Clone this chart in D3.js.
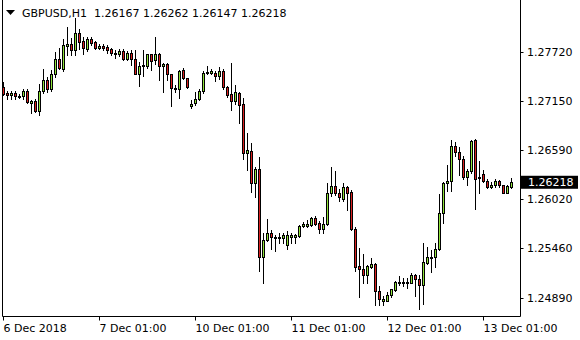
<!DOCTYPE html>
<html><head><meta charset="utf-8">
<script src="https://cdn.jsdelivr.net/npm/d3@7"></script>
<style>
html,body{margin:0;padding:0;background:#fff;}
svg{display:block;}
text{font-family:"DejaVu Sans",sans-serif;font-size:11px;fill:#000;white-space:pre;}
</style>
</head><body>
<svg id="c" width="580" height="340"></svg>
<script>
const symbol = "GBPUSD,H1";
const open = [
1.27318,1.27242,1.27219,1.27245,1.27211,1.27211,1.27265,1.27130,1.27157,1.27035,
1.27265,1.27395,1.27295,1.27464,1.27633,1.27525,1.27789,1.27812,1.27743,1.27935,
1.27840,1.27748,1.27866,1.27829,1.27766,1.27789,1.27774,1.27748,1.27705,1.27697,
1.27728,1.27636,1.27702,1.27636,1.27467,1.27559,1.27553,1.27691,1.27622,1.27697,
1.27553,1.27576,1.27461,1.27306,1.27291,1.27507,1.27415,1.27093,1.27127,1.27180,
1.27272,1.27479,1.27479,1.27479,1.27441,1.27502,1.27311,1.27234,1.27157,1.27249,
1.27119,1.26559,1.26575,1.26214,1.26375,1.25356,1.25555,1.25636,1.25586,1.25586,
1.25578,1.25494,1.25593,1.25593,1.25601,1.25716,1.25716,1.25724,1.25808,1.25754,
1.25685,1.25739,1.26099,1.26176,1.26099,1.26030,1.26161,1.26107,1.25685,1.25256,
1.25218,1.25149,1.25248,1.25279,1.24972,1.24857,1.24857,1.24919,1.24980,1.25072,
1.25072,1.25072,1.25064,1.25149,1.25110,1.25034,1.25294,1.25356,1.25356,1.25448,
1.25869,1.26207,1.26230,1.26636,1.26567,1.26490,1.26276,1.26345,1.26705,1.26283,
1.26314,1.26237,1.26161,1.26184,1.26237,1.26184,1.26099,1.26167];
const high = [
1.27372,1.27272,1.27268,1.27265,1.27234,1.27288,1.27295,1.27165,1.27173,1.27349,
1.27518,1.27433,1.27510,1.27717,1.27763,1.27866,1.28001,1.27875,1.28105,1.27978,
1.27889,1.27886,1.27889,1.27843,1.27812,1.27806,1.27794,1.27766,1.27743,1.27748,
1.27748,1.27728,1.27737,1.27743,1.27599,1.27743,1.27697,1.27697,1.27889,1.27705,
1.27590,1.27590,1.27467,1.27337,1.27513,1.27530,1.27421,1.27168,1.27257,1.27288,
1.27495,1.27556,1.27518,1.27495,1.27541,1.27525,1.27326,1.27587,1.27341,1.27257,
1.27188,1.26786,1.26674,1.26395,1.26506,1.25632,1.25793,1.25670,1.25609,1.25632,
1.25632,1.25662,1.25632,1.25624,1.25724,1.25762,1.25785,1.25823,1.25831,1.25770,
1.25823,1.26207,1.26398,1.26345,1.26138,1.26207,1.26176,1.26130,1.25701,1.25463,
1.25394,1.25264,1.25348,1.25287,1.25026,1.24911,1.24957,1.24995,1.25087,1.25141,
1.25118,1.25118,1.25172,1.25164,1.25156,1.25524,1.25471,1.25440,1.25517,1.26084,
1.26222,1.26421,1.26705,1.26682,1.26628,1.26521,1.26368,1.26705,1.26713,1.26460,
1.26360,1.26253,1.26222,1.26253,1.26245,1.26191,1.26184,1.26262];
const low = [
1.27223,1.27173,1.27180,1.27173,1.27188,1.27180,1.27127,1.27019,1.27027,1.26989,
1.27242,1.27257,1.27272,1.27433,1.27525,1.27502,1.27682,1.27682,1.27679,1.27755,
1.27697,1.27732,1.27797,1.27748,1.27748,1.27743,1.27709,1.27686,1.27651,1.27671,
1.27622,1.27622,1.27567,1.27461,1.27329,1.27438,1.27530,1.27513,1.27582,1.27398,
1.27254,1.27392,1.27099,1.27260,1.27191,1.27406,1.27300,1.27070,1.27111,1.27165,
1.27249,1.27464,1.27464,1.27380,1.27410,1.27288,1.27203,1.27050,1.27119,1.26904,
1.26490,1.26360,1.26107,1.26053,1.25202,1.25064,1.25544,1.25455,1.25432,1.25517,
1.25524,1.25448,1.25524,1.25524,1.25593,1.25701,1.25708,1.25716,1.25724,1.25639,
1.25632,1.25731,1.26061,1.26069,1.26007,1.26007,1.25900,1.25670,1.25195,1.24903,
1.25064,1.25064,1.25233,1.24811,1.24804,1.24804,1.24850,1.24903,1.24972,1.25034,
1.25026,1.25003,1.25057,1.24911,1.24765,1.24819,1.25279,1.25187,1.25248,1.25440,
1.25747,1.26115,1.26115,1.26521,1.26299,1.26253,1.26191,1.26322,1.25915,1.26092,
1.26222,1.26153,1.26153,1.26168,1.26168,1.26092,1.26092,1.26147];
const close = [
1.27234,1.27219,1.27245,1.27211,1.27212,1.27272,1.27142,1.27153,1.27035,1.27265,
1.27395,1.27295,1.27464,1.27633,1.27533,1.27794,1.27812,1.27743,1.27935,1.27835,
1.27760,1.27866,1.27820,1.27766,1.27789,1.27766,1.27743,1.27705,1.27706,1.27728,
1.27636,1.27705,1.27636,1.27467,1.27559,1.27564,1.27691,1.27614,1.27697,1.27553,
1.27576,1.27461,1.27300,1.27300,1.27498,1.27421,1.27314,1.27122,1.27180,1.27272,
1.27479,1.27487,1.27495,1.27441,1.27502,1.27311,1.27226,1.27157,1.27257,1.27111,
1.26559,1.26590,1.26214,1.26375,1.25356,1.25555,1.25636,1.25586,1.25575,1.25587,
1.25609,1.25609,1.25616,1.25609,1.25716,1.25739,1.25739,1.25808,1.25739,1.25685,
1.25739,1.26099,1.26176,1.26099,1.26046,1.26161,1.26099,1.25685,1.25248,1.25218,
1.25149,1.25256,1.25279,1.24972,1.24880,1.24880,1.24926,1.24988,1.25072,1.25073,
1.25071,1.25073,1.25149,1.25103,1.25034,1.25302,1.25356,1.25357,1.25448,1.25869,
1.26207,1.26230,1.26636,1.26567,1.26490,1.26276,1.26345,1.26690,1.26253,1.26282,
1.26237,1.26161,1.26184,1.26237,1.26184,1.26099,1.26176,1.26218];
const yTickValues = [1.24890, 1.25460, 1.26020, 1.26590, 1.27150, 1.27720];
const xTickIndex = [0, 24, 48, 72, 96, 120];
const xTickLabels = ["6 Dec 2018", "7 Dec 01:00", "10 Dec 01:00", "11 Dec 01:00", "12 Dec 01:00", "13 Dec 01:00"];

const bull = "#8fe33a", bear = "#d92020";
const svg = d3.select("#c");
const frameL = 2.5, frameR = 520.5, frameB = 316.5;
const x = d3.scaleLinear().domain([0, open.length - 1]).range([3.5, 3.5 + 4 * (open.length - 1)]);
const y = d3.scaleLinear().domain([1.246795, 1.28292]).range([316, 2]);
const data = open.map((o, i) => ({i, o, h: high[i], l: low[i], c: close[i]}));

// frame
svg.append("path")
  .attr("d", `M${frameL},0V${frameB}H${frameR}V0`)
  .attr("fill", "none").attr("stroke", "#000").attr("stroke-width", 1);

// candles
const g = svg.append("g").attr("shape-rendering", "crispEdges");
g.selectAll("line.wick").data(data).join("line").attr("class", "wick")
  .attr("x1", d => x(d.i)).attr("x2", d => x(d.i))
  .attr("y1", d => Math.round(y(d.h))).attr("y2", d => Math.round(y(d.l)) + 1)
  .attr("stroke", "#000").attr("stroke-width", 1);
g.selectAll("rect.body").data(data).join("rect").attr("class", "body")
  .attr("x", d => x(d.i) - 1).attr("width", 2)
  .attr("y", d => Math.round(y(Math.max(d.o, d.c))) + 0.5)
  .attr("height", d => Math.max(1, Math.round(y(Math.min(d.o, d.c))) - Math.round(y(Math.max(d.o, d.c)))))
  .attr("fill", d => d.c >= d.o ? bull : bear)
  .attr("stroke", "#000").attr("stroke-width", 1);

// y axis
const ya = svg.append("g");
yTickValues.forEach(v => {
  const yy = Math.round(y(v)) + 0.5;
  ya.append("line").attr("x1", frameR).attr("x2", frameR + 3).attr("y1", yy).attr("y2", yy)
    .attr("stroke", "#000");
  ya.append("text").attr("x", 527).attr("y", y(v) + 4).text(v.toFixed(5));
});

// current price label
const last = close[close.length - 1];
svg.append("rect").attr("x", 521).attr("y", y(last) - 6.5).attr("width", 57).attr("height", 13).attr("fill", "#000");
svg.append("text").attr("x", 528).attr("y", y(last) + 4).style("fill", "#fff").text(last.toFixed(5));

// x axis
const xa = svg.append("g");
xTickIndex.forEach((ti, k) => {
  const xx = Math.round(x(ti) - 0.5) + 0.5;
  xa.append("line").attr("x1", xx).attr("x2", xx).attr("y1", frameB).attr("y2", frameB + 4).attr("stroke", "#000");
  xa.append("text").attr("x", xx).attr("y", 332).text(xTickLabels[k]);
});

// title
const n = open.length - 1;
svg.append("path").attr("d", "M6,10H15L10.5,15Z").attr("fill", "#000");
svg.append("text").attr("x", 22).attr("y", 16.5)
  .text(`${symbol}  ${open[n].toFixed(5)} ${high[n].toFixed(5)} ${low[n].toFixed(5)} ${close[n].toFixed(5)}`);
</script>
</body></html>
